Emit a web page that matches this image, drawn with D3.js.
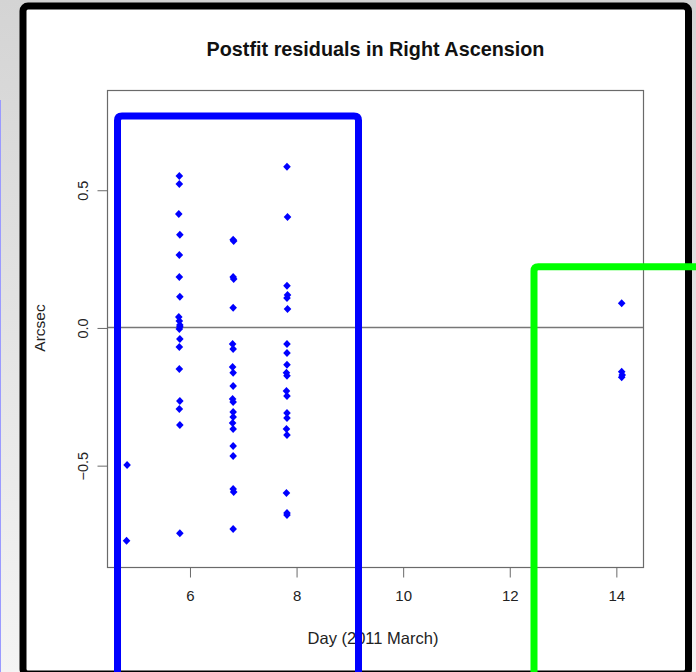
<!DOCTYPE html>
<html>
<head>
<meta charset="utf-8">
<script src="https://cdn.jsdelivr.net/npm/d3@7"></script>
<style>
  body { margin: 0; background: #fff; }
  svg { display: block; font-family: "Liberation Sans", Arial, sans-serif; }
</style>
</head>
<body>
<script>
// residuals, day of 2011 March vs arcsec
var nightA = [4.82, 4.81];
var residA = [-0.498, -0.773];

var nightB = [5.80, 5.80, 5.79, 5.81, 5.80, 5.80, 5.81, 5.79, 5.80, 5.81, 5.81, 5.80, 5.81, 5.80, 5.80, 5.81, 5.80, 5.81, 5.81];
var residB = [0.552, 0.523, 0.414, 0.338, 0.265, 0.185, 0.113, 0.040, 0.025, 0.011, 0.004, -0.004, -0.040, -0.069, -0.149, -0.265, -0.294, -0.352, -0.745];

var nightC = [6.81, 6.82, 6.81, 6.82, 6.81, 6.80, 6.81, 6.80, 6.81, 6.81, 6.80, 6.81, 6.81, 6.81, 6.80, 6.81, 6.81, 6.81, 6.81, 6.82, 6.81];
var residC = [0.320, 0.316, 0.185, 0.178, 0.073, -0.058, -0.076, -0.142, -0.163, -0.211, -0.258, -0.269, -0.305, -0.323, -0.345, -0.367, -0.429, -0.465, -0.585, -0.596, -0.730];

var nightD = [7.82, 7.83, 7.82, 7.83, 7.82, 7.83, 7.82, 7.82, 7.82, 7.81, 7.82, 7.81, 7.82, 7.82, 7.82, 7.81, 7.82, 7.81, 7.82, 7.82];
var residD = [0.585, 0.403, 0.153, 0.120, 0.109, 0.069, -0.058, -0.091, -0.134, -0.163, -0.174, -0.229, -0.247, -0.309, -0.327, -0.367, -0.389, -0.599, -0.672, -0.679];

var nightE = [14.10, 14.10, 14.11, 14.10];
var residE = [0.090, -0.159, -0.171, -0.179];

var xTicks = [6, 8, 10, 12, 14];
var yTicks = [-0.5, 0.0, 0.5];

var width = 696, height = 672;
var plot = {left: 107, right: 643, top: 90, bottom: 567};

var svg = d3.select('body').append('svg')
  .attr('width', width)
  .attr('height', height);

// screenshot surroundings
var grad = svg.append('defs').append('linearGradient')
  .attr('id', 'side').attr('x1', 0).attr('y1', 0).attr('x2', 0).attr('y2', 1);
grad.append('stop').attr('offset', '0%').attr('stop-color', '#d4d4d4');
grad.append('stop').attr('offset', '100%').attr('stop-color', '#f4f4f4');

svg.append('rect').attr('width', width).attr('height', height).attr('fill', 'url(#side)');
svg.append('line')
  .attr('x1', 0.5).attr('x2', 0.5).attr('y1', 100).attr('y2', height)
  .attr('stroke', '#9a9aff').attr('stroke-width', 1);
svg.append('rect')
  .attr('x', 23).attr('y', 6).attr('width', 665.5).attr('height', 668)
  .attr('rx', 5)
  .attr('fill', '#fff')
  .attr('stroke', '#000')
  .attr('stroke-width', 7);

var x = d3.scaleLinear().domain([4.443, 14.50]).range([plot.left, plot.right]);
var y = d3.scaleLinear().domain([-0.868, 0.864]).range([plot.bottom, plot.top]);

var g = svg.append('g');

// plot box
g.append('rect')
  .attr('x', plot.left + 0.5).attr('y', plot.top + 0.5)
  .attr('width', plot.right - plot.left).attr('height', plot.bottom - plot.top)
  .attr('fill', 'none').attr('stroke', '#6a6a6a').attr('stroke-width', 1.2);

// zero line
g.append('line')
  .attr('x1', plot.left).attr('x2', plot.right)
  .attr('y1', Math.round(y(0)) - 0.5).attr('y2', Math.round(y(0)) - 0.5)
  .attr('stroke', '#777').attr('stroke-width', 1.3);

// x axis
var xAxis = d3.axisBottom(x).tickValues(xTicks).tickSize(10).tickPadding(13)
  .tickFormat(d3.format('d'));
var xg = g.append('g').attr('transform', 'translate(0,' + (plot.bottom + 0.5) + ')').call(xAxis);
xg.select('.domain').attr('d', 'M' + x(6) + ',0H' + x(14)).attr('stroke', '#6a6a6a');
xg.selectAll('.tick line').attr('stroke', '#6a6a6a');
xg.selectAll('.tick text').attr('font-size', 15).attr('fill', '#222')
  .attr('font-family', '"Liberation Sans", Arial, sans-serif');

// y axis
var yAxis = d3.axisLeft(y).tickValues(yTicks).tickSize(10).tickPadding(0)
  .tickFormat(d3.format('.1f'));
var yg = g.append('g').attr('transform', 'translate(' + (plot.left + 0.5) + ',0)').call(yAxis);
yg.select('.domain').attr('d', 'M0,' + y(-0.5) + 'V' + y(0.5)).attr('stroke', '#6a6a6a');
yg.selectAll('.tick line').attr('stroke', '#6a6a6a');
yg.selectAll('.tick text')
  .attr('font-size', 14.5).attr('fill', '#222')
  .attr('font-family', '"Liberation Sans", Arial, sans-serif')
  .attr('x', null).attr('dy', null)
  .attr('text-anchor', 'middle')
  .attr('transform', 'translate(-25,0) rotate(-90)')
  .attr('y', 0).attr('dominant-baseline', 'central');

// points
var diamond = 'M0,-4L3.8,0L0,4L-3.8,0Z';
var groups = [[nightA, residA], [nightB, residB], [nightC, residC], [nightD, residD], [nightE, residE]];
groups.forEach(function(grp) {
  g.selectAll(null).data(grp[1]).enter().append('path')
    .attr('d', diamond)
    .attr('fill', '#0000ff')
    .attr('transform', function(d, i) {
      return 'translate(' + x(grp[0][i]) + ',' + y(d) + ')';
    });
});

// titles
svg.append('text')
  .attr('x', 375.5).attr('y', 56)
  .attr('text-anchor', 'middle')
  .attr('font-size', 19.8).attr('font-weight', 'bold').attr('fill', '#111')
  .text('Postfit residuals in Right Ascension');
svg.append('text')
  .attr('x', 373).attr('y', 644)
  .attr('text-anchor', 'middle')
  .attr('font-size', 16.5).attr('fill', '#222')
  .text('Day (2011 March)');
svg.append('text')
  .attr('transform', 'translate(45,' + y(0) + ') rotate(-90)')
  .attr('text-anchor', 'middle')
  .attr('font-size', 15.5).attr('fill', '#222')
  .text('Arcsec');

// highlight boxes on top
svg.append('path')
  .attr('d', 'M117.5,690V120.5Q117.5,116 122,116H354Q358.5,116 358.5,120.5V690')
  .attr('fill', 'none').attr('stroke', '#0000ff').attr('stroke-width', 7);
svg.append('path')
  .attr('d', 'M534,690V271Q534,266.7 538.3,266.7H710')
  .attr('fill', 'none').attr('stroke', '#00ff00').attr('stroke-width', 7);
</script>
</body>
</html>
